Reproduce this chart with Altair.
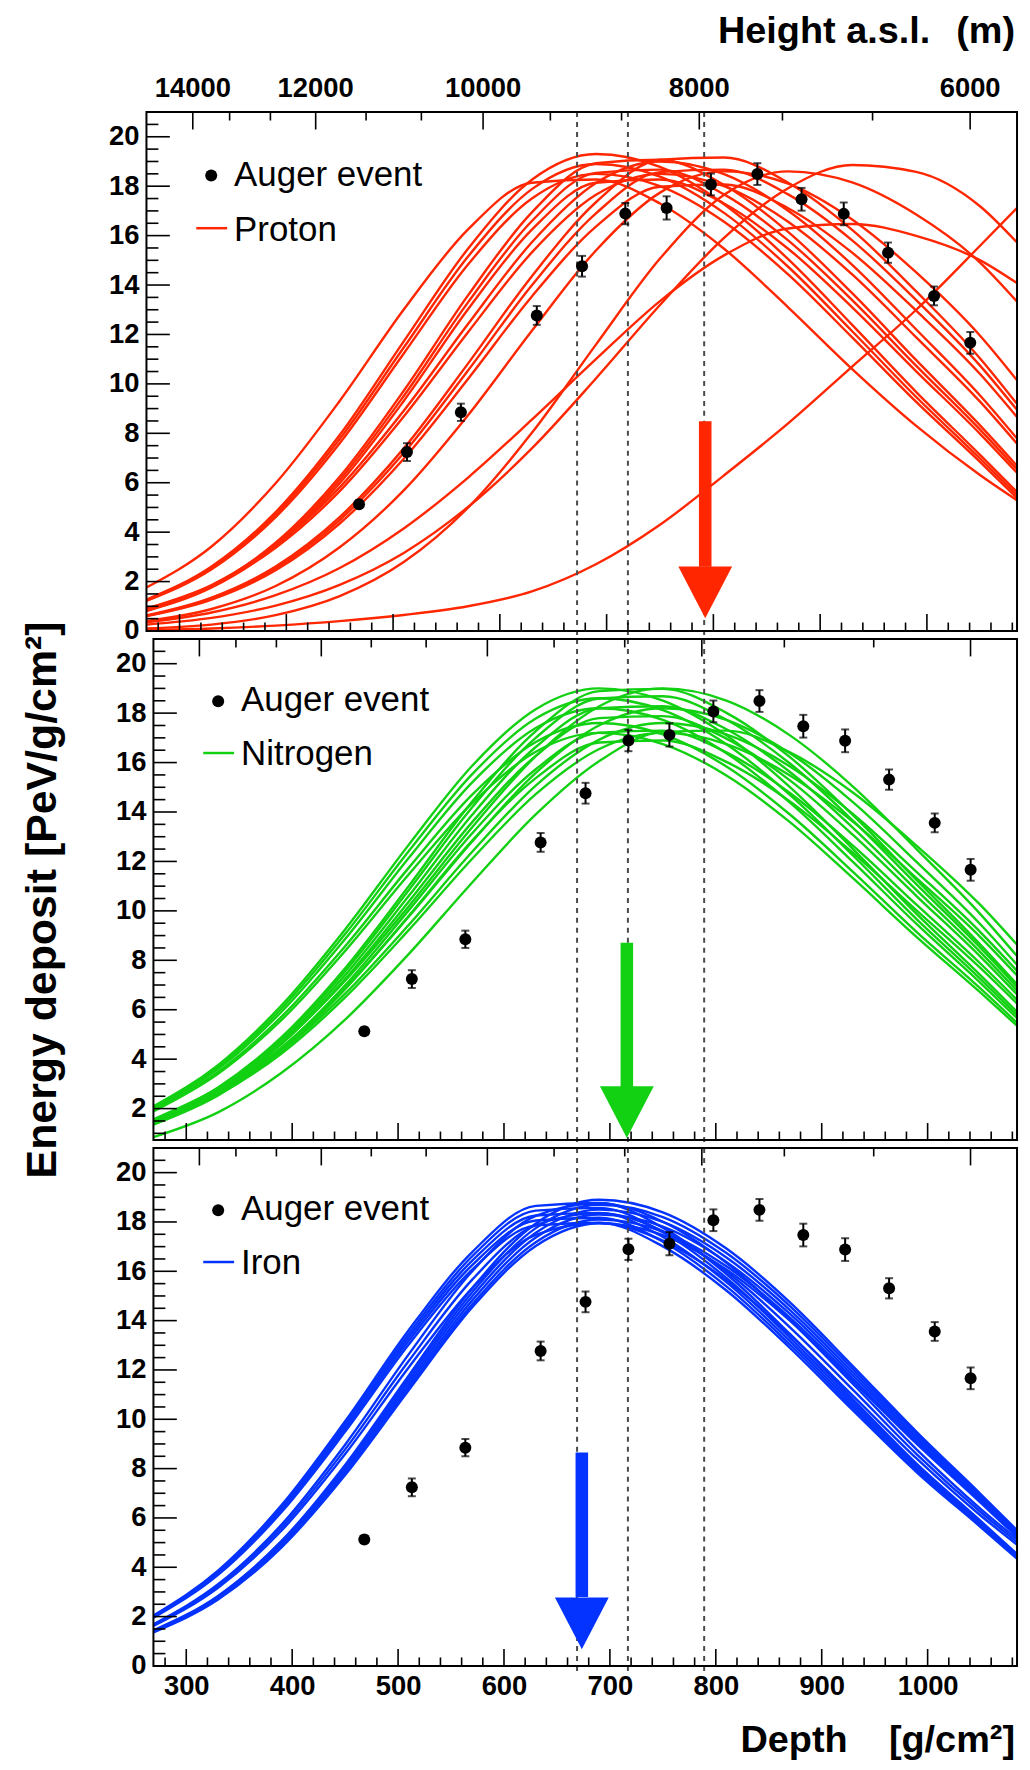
import altair as alt
import pandas as pd

FONT = "Liberation Sans"

# ---------------- values ----------------
DEPTH_GRID = [269, 330, 390, 450, 510, 570, 630, 690, 750, 810, 870, 930, 990, 1050, 1084]

PROTON = [
    [1.27, 2.61, 4.81, 7.93, 11.72, 15.46, 18.26, 19.30, 18.78, 17.27, 15.05, 12.39, 9.67, 7.12, 5.64],
    [1.25, 2.55, 4.71, 7.77, 11.47, 15.14, 17.88, 18.90, 18.39, 16.92, 14.74, 12.13, 9.47, 6.97, 5.52],
    [1.22, 2.50, 4.61, 7.60, 11.23, 14.82, 17.50, 18.50, 18.00, 16.56, 14.43, 11.88, 9.27, 6.83, 5.40],
    [0.84, 1.83, 3.57, 6.24, 9.72, 13.57, 16.94, 18.93, 19.07, 18.05, 16.15, 13.67, 10.96, 8.31, 6.70],
    [0.83, 1.80, 3.50, 6.11, 9.51, 13.29, 16.59, 18.54, 18.67, 17.67, 15.81, 13.39, 10.73, 8.14, 6.56],
    [0.81, 1.76, 3.42, 5.98, 9.31, 13.01, 16.24, 18.14, 18.27, 17.30, 15.47, 13.10, 10.51, 7.97, 6.42],
    [1.76, 3.42, 5.98, 9.31, 13.01, 16.24, 18.14, 18.27, 17.30, 15.47, 13.10, 10.60, 8.30, 6.30, 5.30],
    [0.40, 0.89, 1.82, 3.39, 5.69, 8.72, 12.15, 15.40, 17.74, 18.60, 18.10, 16.65, 14.51, 11.94, 10.17],
    [0.63, 1.35, 2.61, 4.61, 7.39, 10.81, 14.36, 17.35, 19.07, 19.16, 18.14, 16.23, 13.74, 11.02, 9.21],
    [0.61, 1.31, 2.54, 4.49, 7.20, 10.53, 13.99, 16.90, 18.57, 18.67, 17.67, 15.81, 13.39, 10.73, 8.97],
    [0.60, 1.27, 2.46, 4.35, 6.97, 10.19, 13.54, 16.36, 17.98, 18.07, 17.11, 15.31, 12.96, 10.39, 8.68],
    [0.91, 1.86, 3.46, 5.81, 8.91, 12.41, 15.73, 18.13, 19.00, 18.49, 17.01, 14.82, 12.20, 9.52, 7.81],
    [0.89, 1.81, 3.37, 5.66, 8.68, 12.08, 15.32, 17.65, 18.50, 18.00, 16.56, 14.43, 11.88, 9.27, 7.60],
    [0.26, 0.53, 1.03, 1.87, 3.16, 5.01, 7.39, 10.22, 13.19, 15.91, 17.92, 18.86, 18.58, 17.18, 15.74],
    [0.35, 0.75, 1.45, 2.55, 4.15, 6.20, 8.55, 11.00, 13.35, 15.20, 16.29, 16.47, 15.99, 15.00, 14.09],
    [0.10, 0.26, 0.64, 1.41, 2.79, 4.98, 8.02, 11.59, 15.07, 17.65, 18.60, 18.15, 16.85, 14.90, 13.35],
    [0.03, 0.10, 0.22, 0.40, 0.65, 1.00, 1.60, 2.70, 4.30, 6.30, 8.40, 10.70, 13.00, 15.60, 17.10],
]

NITROGEN = [
    [2.09, 3.76, 6.18, 9.25, 12.67, 15.87, 18.16, 19.00, 18.51, 17.10, 15.01, 12.48, 9.86, 7.39, 5.93],
    [2.05, 3.68, 6.05, 9.06, 12.41, 15.53, 17.78, 18.60, 18.12, 16.74, 14.69, 12.22, 9.65, 7.24, 5.80],
    [2.00, 3.60, 5.92, 8.86, 12.14, 15.20, 17.40, 18.20, 17.73, 16.38, 14.38, 11.96, 9.45, 7.08, 5.68],
    [1.94, 3.48, 5.72, 8.57, 11.74, 14.70, 16.83, 17.60, 17.14, 15.84, 13.90, 11.56, 9.13, 6.85, 5.49],
    [1.52, 2.85, 4.89, 7.68, 11.00, 14.42, 17.27, 18.89, 18.98, 18.01, 16.22, 13.85, 11.23, 8.63, 7.05],
    [1.50, 2.80, 4.81, 7.56, 10.83, 14.19, 17.00, 18.59, 18.68, 17.73, 15.96, 13.63, 11.05, 8.50, 6.94],
    [1.46, 2.74, 4.71, 7.40, 10.60, 13.89, 16.63, 18.20, 18.28, 17.35, 15.62, 13.34, 10.82, 8.32, 6.79],
    [1.43, 2.68, 4.61, 7.24, 10.37, 13.59, 16.27, 17.80, 17.88, 16.97, 15.28, 13.05, 10.58, 8.14, 6.64],
    [1.39, 2.59, 4.45, 6.99, 10.02, 13.14, 15.73, 17.21, 17.29, 16.41, 14.77, 12.62, 10.23, 7.86, 6.42],
    [1.51, 2.71, 4.48, 6.88, 9.76, 12.81, 15.58, 17.51, 18.20, 17.73, 16.38, 14.38, 11.96, 9.45, 7.84],
    [1.46, 2.62, 4.33, 6.65, 9.43, 12.39, 15.07, 16.93, 17.60, 17.14, 15.84, 13.90, 11.56, 9.13, 7.59],
    [1.42, 2.56, 4.23, 6.50, 9.22, 12.11, 14.72, 16.55, 17.20, 16.75, 15.48, 13.59, 11.30, 8.93, 7.41],
    [1.57, 2.83, 4.67, 7.18, 10.18, 13.38, 16.26, 18.28, 19.00, 18.51, 17.10, 15.01, 12.48, 9.86, 8.19],
    [1.89, 3.41, 5.59, 8.38, 11.47, 14.36, 16.44, 17.20, 16.75, 15.48, 13.59, 11.30, 8.93, 6.69, 5.37],
    [1.35, 2.53, 4.35, 6.83, 9.79, 12.84, 15.37, 16.81, 16.89, 16.03, 14.43, 12.33, 10.00, 7.68, 6.27],
    [0.85, 1.85, 3.45, 5.60, 8.25, 11.15, 13.90, 16.06, 17.24, 17.29, 16.41, 14.77, 12.62, 10.23, 8.65],
]

IRON = [
    [2.04, 3.86, 6.52, 9.92, 13.61, 16.78, 18.65, 18.77, 17.77, 15.89, 13.46, 10.79, 8.18, 5.88, 4.55],
    [2.02, 3.81, 6.45, 9.82, 13.46, 16.61, 18.46, 18.57, 17.58, 15.73, 13.31, 10.68, 8.10, 5.82, 4.51],
    [2.00, 3.77, 6.38, 9.71, 13.32, 16.43, 18.26, 18.37, 17.39, 15.56, 13.17, 10.56, 8.01, 5.75, 4.46],
    [1.98, 3.73, 6.31, 9.61, 13.18, 16.25, 18.06, 18.17, 17.20, 15.39, 13.03, 10.45, 7.92, 5.69, 4.41],
    [1.95, 3.69, 6.24, 9.50, 13.03, 16.07, 17.86, 17.97, 17.01, 15.22, 12.89, 10.34, 7.84, 5.63, 4.36],
    [1.69, 3.31, 5.73, 8.97, 12.63, 16.00, 18.25, 18.76, 18.01, 16.34, 14.02, 11.41, 8.76, 6.37, 5.15],
    [1.66, 3.24, 5.61, 8.78, 12.36, 15.66, 17.87, 18.36, 17.63, 15.99, 13.73, 11.17, 8.57, 6.24, 5.04],
    [1.62, 3.17, 5.49, 8.59, 12.10, 15.32, 17.48, 17.96, 17.24, 15.64, 13.43, 10.93, 8.39, 6.10, 4.93],
    [1.44, 2.84, 5.07, 8.15, 11.77, 15.31, 17.94, 18.90, 18.39, 16.92, 14.74, 12.13, 9.47, 6.97, 5.52],
    [1.42, 2.81, 5.01, 8.06, 11.65, 15.15, 17.75, 18.70, 18.20, 16.74, 14.59, 12.01, 9.37, 6.90, 5.46],
    [1.41, 2.78, 4.96, 7.97, 11.53, 14.99, 17.56, 18.50, 18.00, 16.56, 14.43, 11.88, 9.27, 6.83, 5.40],
    [1.39, 2.75, 4.90, 7.89, 11.40, 14.82, 17.37, 18.30, 17.81, 16.38, 14.27, 11.75, 9.17, 6.75, 5.34],
    [1.38, 2.72, 4.85, 7.80, 11.28, 14.66, 17.18, 18.10, 17.61, 16.20, 14.12, 11.62, 9.07, 6.68, 5.29],
    [1.36, 2.69, 4.81, 7.74, 11.18, 14.54, 17.03, 17.95, 17.47, 16.07, 14.00, 11.52, 8.99, 6.62, 5.24],
]

AUGER_DEPTH = [468.1, 513.0, 563.5, 634.6, 677.0, 717.5, 756.2, 797.7, 841.2, 882.6, 922.1, 963.6, 1006.7, 1040.6]
AUGER_EDEP = [5.13, 7.24, 8.85, 12.77, 14.76, 16.89, 17.12, 18.07, 18.49, 17.47, 16.88, 15.31, 13.56, 11.66]
AUGER_ERR = [0.15, 0.36, 0.35, 0.38, 0.42, 0.43, 0.47, 0.44, 0.44, 0.46, 0.46, 0.41, 0.38, 0.44]

XMAX_LINES = [669, 717, 789]

ARROW_DEPTH = [790, 716, 673.5]
ARROW_SHAFT_TOP = [8.49, 8.71, 8.65]
ARROW_HEAD_BASE = [2.60, 2.85, 2.79]
ARROW_TIP = [0.53, 0.86, 0.66]

HEIGHT_TICK_DEPTH = [312.4, 346.9, 385.1, 427.5, 474.7, 526.5, 584.3, 647.3, 714.0, 786.8, 864.7, 949.1, 1040.5]
HEIGHT_TICK_LABEL = ["14000", "", "", "12000", "", "", "10000", "", "", "8000", "", "", "6000"]

DEPTH_MAJOR = [300, 400, 500, 600, 700, 800, 900, 1000]
DEPTH_MINOR = [d for d in range(280, 1081, 20) if d % 100 != 0]
Y_MAJOR = [0, 2, 4, 6, 8, 10, 12, 14, 16, 18, 20]
Y_MINOR = [h * 0.5 for h in range(1, 42) if h % 4 != 0]

SPECIES = ["Proton", "Nitrogen", "Iron"]
CURVES = [PROTON, NITROGEN, IRON]
COLORS = ["#ff2600", "#12d012", "#0433ff"]

# ---------------- layout ----------------
W = 867
HEIGHTS = [521, 503, 520]
GAP = 8
Y_LOW = [0.0, 0.73, 0.0]
Y_HIGH = 21.0
DOM_LOWER = [269, 1084.4]
DOM_TOP = [275.53, 1084.4]
FRAME_LEFT = 269
HEAD_PATH = "M -1 -0.96 L 1 -0.96 L 0 0.96 Z"
ONE = pd.DataFrame({"a": [0]})
LABEL_SIZE = 27.5


def panel(k):
    H = HEIGHTS[k]
    ylo = Y_LOW[k]
    xdom = DOM_TOP if k == 0 else DOM_LOWER
    left = (FRAME_LEFT - xdom[0]) * W / (xdom[1] - xdom[0])
    color = COLORS[k]
    last = k == 2

    xscale = alt.Scale(domain=xdom, nice=False, zero=False)
    yscale = alt.Scale(domain=[ylo, Y_HIGH], nice=False, zero=False)
    if last:
        xaxis = alt.Axis(values=DEPTH_MAJOR, format="d", ticks=False, tickSize=0, domain=False, grid=False,
                         labelFont=FONT, labelFontSize=LABEL_SIZE, labelFontWeight="bold",
                         labelColor="black", labelPadding=7, title=None)
    else:
        xaxis = None
    yvals = [v for v in Y_MAJOR if v >= ylo]
    yaxis = alt.Axis(values=yvals, ticks=False, tickSize=0, domain=False, grid=False,
                     labelFont=FONT, labelFontSize=LABEL_SIZE, labelFontWeight="bold",
                     labelColor="black", labelPadding=7.5, offset=round(-left, 2), title=None)

    def X(f):
        return alt.X(f, type="quantitative", scale=xscale, axis=xaxis)

    def Y(f):
        return alt.Y(f, type="quantitative", scale=yscale, axis=yaxis)

    def XG(f):  # figure-wide guides share the lower-panel depth scale
        if k == 0:
            return alt.X(f, type="quantitative",
                         scale=alt.Scale(domain=DOM_LOWER, nice=False, zero=False), axis=None)
        return X(f)

    layers = []

    rows = []
    for i, c in enumerate(CURVES[k]):
        for d, v in zip(DEPTH_GRID, c):
            rows.append({"depth": d, "edep": v, "sim": i})
    cdf = pd.DataFrame(rows)
    layers.append(alt.Chart(cdf).mark_line(color=color, strokeWidth=2.4, interpolate="monotone")
                  .encode(x=X("depth"), y=Y("edep"), detail="sim:N"))

    below = GAP if k < 2 else 7
    layers.append(alt.Chart(pd.DataFrame({"d": XMAX_LINES}))
                  .mark_rule(color="#4a4a4a", strokeWidth=2, strokeDash=[5, 5])
                  .encode(x=XG("d"), y=alt.value(0), y2=alt.value(H + below)))

    pdf = pd.DataFrame({
        "depth": AUGER_DEPTH, "edep": AUGER_EDEP,
        "lo": [v - e for v, e in zip(AUGER_EDEP, AUGER_ERR)],
        "hi": [v + e for v, e in zip(AUGER_EDEP, AUGER_ERR)],
    })
    layers.append(alt.Chart(pdf).mark_rule(color="black", strokeWidth=2)
                  .encode(x=X("depth"), y=Y("lo"), y2="hi"))
    layers.append(alt.Chart(pdf).mark_tick(color="black", orient="horizontal", size=8, thickness=2)
                  .encode(x=X("depth"), y=Y("lo")))
    layers.append(alt.Chart(pdf).mark_tick(color="black", orient="horizontal", size=8, thickness=2)
                  .encode(x=X("depth"), y=Y("hi")))
    layers.append(alt.Chart(pdf).mark_circle(size=145, color="black", opacity=1)
                  .encode(x=X("depth"), y=Y("edep")))

    adf = pd.DataFrame({
        "d": [ARROW_DEPTH[k]], "top": [ARROW_SHAFT_TOP[k]], "base": [ARROW_HEAD_BASE[k]],
        "mid": [(ARROW_HEAD_BASE[k] + ARROW_TIP[k]) / 2],
    })
    layers.append(alt.Chart(adf).mark_rule(color=color, strokeWidth=12.6)
                  .encode(x=XG("d"), y=Y("top"), y2="base"))
    layers.append(alt.Chart(adf).mark_point(shape=HEAD_PATH, filled=True, size=2916, color=color,
                                            opacity=1, strokeWidth=0)
                  .encode(x=XG("d"), y=Y("mid")))

    tick = dict(color="black", strokeWidth=1.6)
    ymaj = pd.DataFrame({"v": yvals})
    ymin_ = pd.DataFrame({"v": [v for v in Y_MINOR if v >= ylo]})
    layers.append(alt.Chart(ymaj).mark_rule(**tick)
                  .encode(y=Y("v"), x=alt.value(left), x2=alt.value(left + 23.5)))
    layers.append(alt.Chart(ymin_).mark_rule(**tick)
                  .encode(y=Y("v"), x=alt.value(left), x2=alt.value(left + 12)))
    layers.append(alt.Chart(pd.DataFrame({"d": DEPTH_MAJOR})).mark_rule(**tick)
                  .encode(x=X("d"), y=alt.value(H), y2=alt.value(H - 17)))
    layers.append(alt.Chart(pd.DataFrame({"d": DEPTH_MINOR})).mark_rule(**tick)
                  .encode(x=X("d"), y=alt.value(H), y2=alt.value(H - 8.5)))
    hdf = pd.DataFrame({"d": HEIGHT_TICK_DEPTH, "lab": HEIGHT_TICK_LABEL})
    layers.append(alt.Chart(hdf[hdf.lab != ""]).mark_rule(**tick)
                  .encode(x=X("d"), y=alt.value(0), y2=alt.value(17.5)))
    layers.append(alt.Chart(hdf[hdf.lab == ""]).mark_rule(**tick)
                  .encode(x=X("d"), y=alt.value(0), y2=alt.value(8.5)))

    fdf = pd.DataFrame({"x0": [FRAME_LEFT], "x1": [xdom[1]], "y0": [ylo], "y1": [Y_HIGH]})
    layers.append(alt.Chart(fdf).mark_rect(fill="white", fillOpacity=0, stroke="black", strokeWidth=2)
                  .encode(x=X("x0"), x2="x1", y=Y("y0"), y2="y1"))

    if k == 0:
        dot_x, dot_y, txt_x, auger_base, ln_x0, ln_x1, ln_y, lab_base = 58, 63.8, 81, 74, 43, 74, 116.6, 129
    else:
        dot_x, dot_y, txt_x, auger_base, ln_x0, ln_x1, ln_y, lab_base = 65, 62.5, 88, 72.5, 50, 81, 114.5, 127
    layers.append(alt.Chart(ONE).mark_circle(size=145, color="black", opacity=1)
                  .encode(x=alt.value(dot_x), y=alt.value(dot_y)))
    layers.append(alt.Chart(ONE).mark_text(text="Auger event", font=FONT, fontSize=35, align="left",
                                           baseline="alphabetic", color="black")
                  .encode(x=alt.value(txt_x), y=alt.value(auger_base)))
    layers.append(alt.Chart(ONE).mark_rule(color=color, strokeWidth=2.5)
                  .encode(x=alt.value(ln_x0), x2=alt.value(ln_x1), y=alt.value(ln_y)))
    layers.append(alt.Chart(ONE).mark_text(text=SPECIES[k], font=FONT, fontSize=35, align="left",
                                           baseline="alphabetic", color="black")
                  .encode(x=alt.value(txt_x), y=alt.value(lab_base)))

    title_style = dict(font=FONT, fontWeight="bold", color="black", baseline="alphabetic")
    if k == 0:
        layers.append(alt.Chart(hdf[hdf.lab != ""]).mark_text(font=FONT, fontSize=LABEL_SIZE, fontWeight="bold",
                                                              align="center", baseline="alphabetic",
                                                              color="black")
                      .encode(x=X("d"), y=alt.value(-15.5), text="lab:N"))
        layers.append(alt.Chart(ONE).mark_text(text="Height a.s.l.", fontSize=38, align="right", **title_style)
                      .encode(x=alt.value(780), y=alt.value(-69)))
        layers.append(alt.Chart(ONE).mark_text(text="(m)", fontSize=38, align="right", **title_style)
                      .encode(x=alt.value(865), y=alt.value(-69)))
        layers.append(alt.Chart(ONE).mark_point(size=1, opacity=0)
                      .encode(x=alt.value(-144.5), y=alt.value(-99.5)))
    if k == 1:
        layers.append(alt.Chart(ONE).mark_text(text="Energy deposit  [PeV/g/cm\u00b2]", fontSize=43,
                                               align="center", angle=270, **title_style)
                      .encode(x=alt.value(-98), y=alt.value(262)))
    if k == 2:
        layers.append(alt.Chart(ONE).mark_text(text="Depth", fontSize=38, align="right", **title_style)
                      .encode(x=alt.value(697), y=alt.value(606)))
        layers.append(alt.Chart(ONE).mark_text(text="[g/cm\u00b2]", fontSize=38, align="right", **title_style)
                      .encode(x=alt.value(865), y=alt.value(606)))

    ch = alt.layer(*layers).properties(width=W, height=H)
    if k == 0:
        ch = ch.resolve_scale(x="independent")
    return ch


chart = (
    alt.vconcat(panel(0), panel(1), panel(2), spacing=GAP, bounds="flush")
    .properties(padding=0)
    .configure_view(stroke="transparent")
)

chart.save("out.html", embed_options={"renderer": "svg", "actions": False})
